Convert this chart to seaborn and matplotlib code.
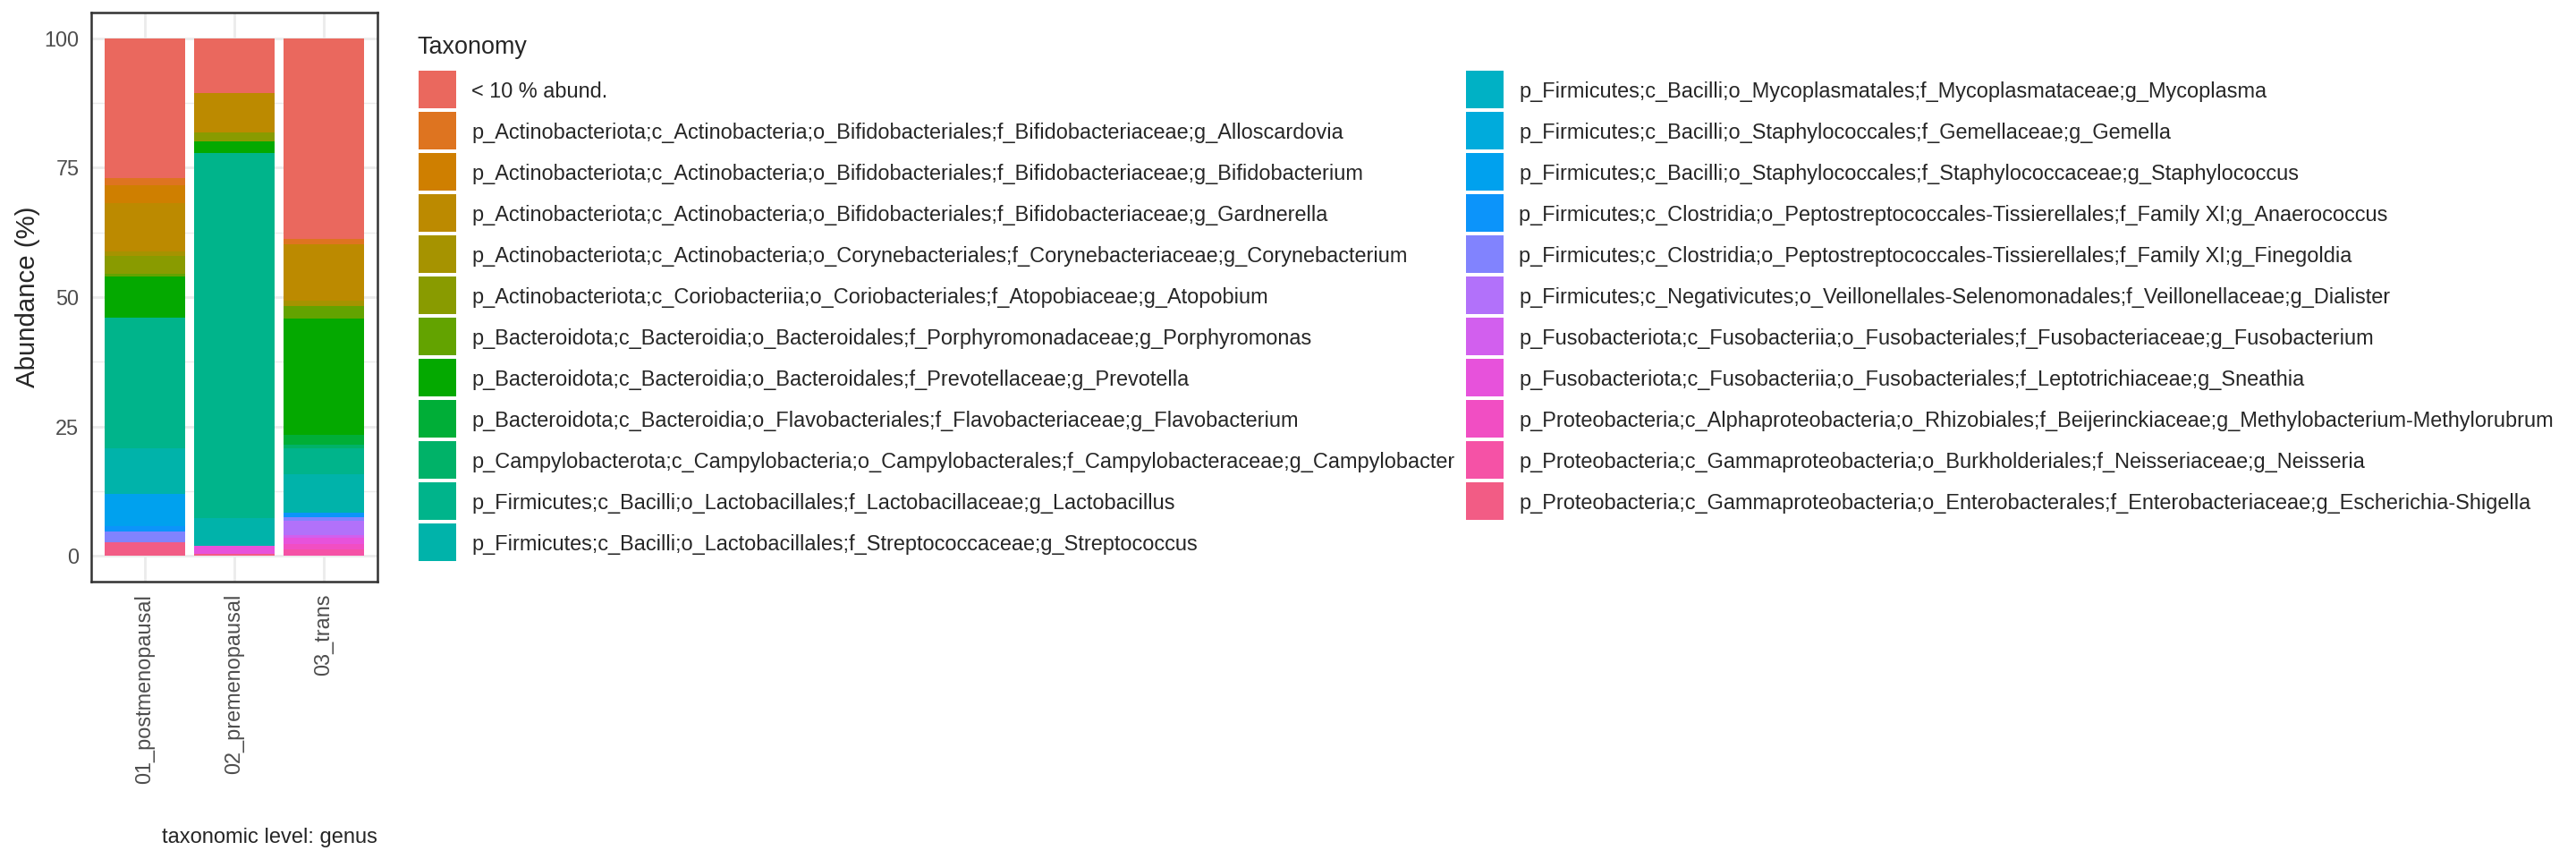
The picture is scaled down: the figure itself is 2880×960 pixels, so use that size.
import numpy as np
import pandas as pd
import matplotlib
matplotlib.use("Agg")
import matplotlib.pyplot as plt
from matplotlib.patches import Rectangle
import seaborn as sns

sns.set_style("white")
plt.rcParams['font.family'] = ['Liberation Sans', 'DejaVu Sans']

# Samples (x axis)
groups = ["01_postmenopausal", "02_premenopausal", "03_trans"]

# Taxa in legend order (first one ends up on top of the stack)
taxa = [
    "< 10 % abund.",
    "p_Actinobacteriota;c_Actinobacteria;o_Bifidobacteriales;f_Bifidobacteriaceae;g_Alloscardovia",
    "p_Actinobacteriota;c_Actinobacteria;o_Bifidobacteriales;f_Bifidobacteriaceae;g_Bifidobacterium",
    "p_Actinobacteriota;c_Actinobacteria;o_Bifidobacteriales;f_Bifidobacteriaceae;g_Gardnerella",
    "p_Actinobacteriota;c_Actinobacteria;o_Corynebacteriales;f_Corynebacteriaceae;g_Corynebacterium",
    "p_Actinobacteriota;c_Coriobacteriia;o_Coriobacteriales;f_Atopobiaceae;g_Atopobium",
    "p_Bacteroidota;c_Bacteroidia;o_Bacteroidales;f_Porphyromonadaceae;g_Porphyromonas",
    "p_Bacteroidota;c_Bacteroidia;o_Bacteroidales;f_Prevotellaceae;g_Prevotella",
    "p_Bacteroidota;c_Bacteroidia;o_Flavobacteriales;f_Flavobacteriaceae;g_Flavobacterium",
    "p_Campylobacterota;c_Campylobacteria;o_Campylobacterales;f_Campylobacteraceae;g_Campylobacter",
    "p_Firmicutes;c_Bacilli;o_Lactobacillales;f_Lactobacillaceae;g_Lactobacillus",
    "p_Firmicutes;c_Bacilli;o_Lactobacillales;f_Streptococcaceae;g_Streptococcus",
    "p_Firmicutes;c_Bacilli;o_Mycoplasmatales;f_Mycoplasmataceae;g_Mycoplasma",
    "p_Firmicutes;c_Bacilli;o_Staphylococcales;f_Gemellaceae;g_Gemella",
    "p_Firmicutes;c_Bacilli;o_Staphylococcales;f_Staphylococcaceae;g_Staphylococcus",
    "p_Firmicutes;c_Clostridia;o_Peptostreptococcales-Tissierellales;f_Family XI;g_Anaerococcus",
    "p_Firmicutes;c_Clostridia;o_Peptostreptococcales-Tissierellales;f_Family XI;g_Finegoldia",
    "p_Firmicutes;c_Negativicutes;o_Veillonellales-Selenomonadales;f_Veillonellaceae;g_Dialister",
    "p_Fusobacteriota;c_Fusobacteriia;o_Fusobacteriales;f_Fusobacteriaceae;g_Fusobacterium",
    "p_Fusobacteriota;c_Fusobacteriia;o_Fusobacteriales;f_Leptotrichiaceae;g_Sneathia",
    "p_Proteobacteria;c_Alphaproteobacteria;o_Rhizobiales;f_Beijerinckiaceae;g_Methylobacterium-Methylorubrum",
    "p_Proteobacteria;c_Gammaproteobacteria;o_Burkholderiales;f_Neisseriaceae;g_Neisseria",
    "p_Proteobacteria;c_Gammaproteobacteria;o_Enterobacterales;f_Enterobacteriaceae;g_Escherichia-Shigella",
]

# Abundance (%) per taxon, same order as taxa
postmenopausal = [26.95, 1.4, 3.45, 9.3, 1.0, 3.45, 0.45, 7.95, 0.0, 0.0, 25.25, 8.8,
                  0.0, 0.0, 6.2, 1.2, 2.0, 0.0, 0.0, 0.0, 0.0, 0.0, 2.6]
premenopausal = [10.5, 0.0, 0.0, 7.7, 0.0, 1.67, 0.0, 2.24, 0.0, 0.0, 70.7, 5.2,
                 0.0, 0.0, 0.0, 0.0, 0.0, 0.0, 0.0, 1.7, 0.0, 0.0, 0.3]
trans = [38.74, 1.06, 0.0, 10.9, 1.1, 0.0, 2.4, 22.37, 2.0, 0.58, 5.0, 7.55,
         0.0, 0.0, 0.0, 0.92, 0.63, 2.76, 0.58, 1.1, 1.15, 1.15, 0.0]


# ggplot-like hue palette (HCL -> sRGB)
def hcl_to_rgb(h, c, l):
    hr = np.deg2rad(h)
    u, v = c * np.cos(hr), c * np.sin(hr)
    Y = ((l + 16) / 116) ** 3
    xn, yn, zn = 0.95047, 1.0, 1.08883
    den = xn + 15 * yn + 3 * zn
    un, vn = 4 * xn / den, 9 * yn / den
    up, vp = u / (13 * l) + un, v / (13 * l) + vn
    X = Y * 9 * up / (4 * vp)
    Z = Y * (12 - 3 * up - 20 * vp) / (4 * vp)
    m = np.array([[3.2406, -1.5372, -0.4986],
                  [-0.9689, 1.8758, 0.0415],
                  [0.0557, -0.2040, 1.0570]])
    lin = np.clip(m @ np.array([X, Y, Z]), 0, 1)
    rgb = np.where(lin <= 0.0031308, 12.92 * lin, 1.055 * lin ** (1 / 2.4) - 0.055)
    return tuple(np.clip(rgb, 0, 1))


def hue_pal(n, l=60, c=102):
    return [hcl_to_rgb(h, c, l) for h in np.linspace(15, 375, n + 1)[:-1]]


colors = hue_pal(len(taxa))

df = pd.DataFrame({
    "group": np.repeat(groups, len(taxa)),
    "taxon": taxa * len(groups),
    "abundance": postmenopausal + premenopausal + trans,
})
wide = df.pivot(index="group", columns="taxon", values="abundance").reindex(groups)[taxa]

W, H = 2880, 960
fig = plt.figure(figsize=(14.4, 4.8), dpi=200, facecolor="white")
ax = fig.add_axes([102 / W, 1 - 650 / H, 320 / W, 636 / H])

# stack bars: last taxon at the bottom, like ggplot
bottom = np.zeros(len(groups))
for taxon, col in reversed(list(zip(taxa, colors))):
    vals = wide[taxon].values
    sns.barplot(x=groups, y=vals, order=groups, color=col, saturation=1,
                width=0.9, errorbar=None, bottom=bottom, edgecolor="none",
                linewidth=0, ax=ax)
    bottom = bottom + vals

ax.set_xlim(-0.6, 2.6)
ax.set_ylim(-5, 105)
ax.set_yticks([0, 25, 50, 75, 100])
ax.set_yticks([12.5, 37.5, 62.5, 87.5], minor=True)
ax.set_axisbelow(True)
ax.grid(True, which="major", color="#EBEBEB", linewidth=1.0)
ax.grid(True, which="minor", axis="y", color="#EBEBEB", linewidth=0.5)
ax.xaxis.grid(True, which="major", color="#EBEBEB", linewidth=1.0)
for s in ax.spines.values():
    s.set_visible(True)
    s.set_color("#333333")
    s.set_linewidth(0.9)

ax.tick_params(axis="both", which="major", length=2.75, width=0.9, color="#333333",
               labelcolor="#4D4D4D", labelsize=8.45, pad=2.2)
ax.tick_params(axis="both", which="minor", length=0)
ax.tick_params(axis="x", labelrotation=90)
ax.set_xlabel("")
ax.set_ylabel("Abundance (%)", fontsize=10.6, labelpad=1.6)

fig.text(422 / W, 1 - 942 / H, "taxonomic level: genus", ha="right",
         va="baseline", fontsize=8.5)

# legend: two columns of square keys (12 + 11), drawn by hand to match ggplot spacing
fig.text(466 / W, 1 - 60 / H, "Taxonomy", ha="left", va="baseline", fontsize=9.7)
key, pitch, top0 = 42, 46, 79
col_x = [468, 1639]
for i, (name, col) in enumerate(zip(taxa, colors)):
    c, r = divmod(i, 12)
    x0, y0 = col_x[c], top0 + r * pitch
    fig.add_artist(Rectangle((x0 / W, 1 - (y0 + key) / H), key / W, key / H,
                             transform=fig.transFigure, facecolor=col,
                             edgecolor="none"))
    fig.text((x0 + key + 17) / W, 1 - (y0 + key / 2 + 9) / H, name,
             ha="left", va="baseline", fontsize=8.45)

fig.savefig("out.png", dpi=200, facecolor="white")
